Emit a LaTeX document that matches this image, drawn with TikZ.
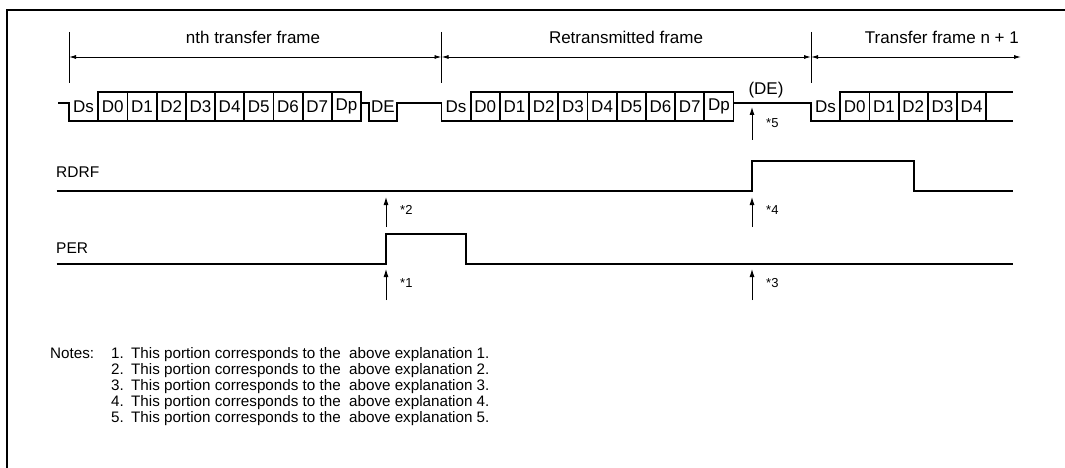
\documentclass[tikz,border=0pt]{standalone}
\usepackage{fontspec}
\setmainfont{Liberation Sans}
\usetikzlibrary{arrows.meta}
\tikzset{
  sig/.style={line width=1.8pt, line join=miter},
  bitbox/.style={draw, line width=1.8pt, minimum width=29.2pt, minimum height=29pt,
    inner sep=0pt, outer sep=0pt, font=\fontsize{17}{17}\selectfont},
  bitlabel/.style={inner sep=0pt, font=\fontsize{17}{17}\selectfont},
  framerule/.style={line width=0.8pt},
  framespan/.style={{Latex[length=7pt,width=4pt]}-{Latex[length=7pt,width=4pt]}, line width=0.9pt},
  headlabel/.style={inner sep=0pt, font=\fontsize{17}{17}\selectfont},
  signame/.style={inner sep=0pt, anchor=west, font=\fontsize{15.5}{15.5}\selectfont},
  hint/.style={-{Latex[length=8pt,width=5pt]}, line width=0.9pt},
  reflabel/.style={inner sep=0pt, anchor=west, font=\fontsize{13}{13}\selectfont},
  notetext/.style={inner sep=0pt, anchor=base west, font=\fontsize{15.2}{15.2}\selectfont}
}
\begin{document}
\begin{tikzpicture}[x=1pt,y=-1pt]
  \useasboundingbox (0,0) rectangle (1065,468);
  % open frame round the figure
  \draw[line width=2.6pt] (7,469) -- (7,10) -- (1066,10);

  % frame spans
  \foreach \x/\n in {69/a,441.5/b,811/c} {
    \draw[framerule] (\x,32) -- (\x,83);
    \coordinate (s\n) at (\x,57);
  }
  \coordinate (sd) at (1021,57);
  \draw[framespan] (sa) -- (sb);
  \draw[framespan] (sb) -- (sc);
  \draw[framespan] (sc) -- (sd);
  \node[headlabel] (head1) at (253,37) {nth transfer frame};
  \node[headlabel] (head2) at (626,37) {Retransmitted frame};
  \node[headlabel, anchor=east] (head3) at (1019,37) {Transfer frame n + 1};

  % nth transfer frame
  \draw[sig] (58,103) -- (69,103) -- (69,121) -- (98.2,121);
  \node[bitlabel] (ds1) at (83.6,106.5) {Ds};
  \foreach \l [count=\i from 0] in {D0,D1,D2,D3,D4,D5,D6,D7,Dp}
    \node[bitbox] (fa\l) at ({98.2+29.2*(\i+0.5)},106.5) {\l};
  \draw[sig] (361,103) -- (369,103) -- (369,121) -- (397,121) -- (397,103)
    -- (441.5,103) -- (441.5,121) -- (470.7,121);
  \node[bitlabel] (de1) at (383,106.5) {DE};

  % retransmitted frame
  \node[bitlabel] (ds2) at (456.1,106.5) {Ds};
  \foreach \l [count=\i from 0] in {D0,D1,D2,D3,D4,D5,D6,D7,Dp}
    \node[bitbox] (fb\l) at ({470.7+29.2*(\i+0.5)},106.5) {\l};
  \draw[sig] (733.5,103) -- (811,103) -- (811,121) -- (840.2,121);
  \node[bitlabel, anchor=south] (de2) at (766,98) {(DE)};

  % transfer frame n + 1
  \node[bitlabel] (ds3) at (825.6,106.5) {Ds};
  \foreach \l [count=\i from 0] in {D0,D1,D2,D3,D4}
    \node[bitbox] (fc\l) at ({840.2+29.2*(\i+0.5)},106.5) {\l};
  \draw[sig] (986.2,92) -- (1013,92);
  \draw[sig] (986.2,121) -- (1013,121);

  % flags
  \node[signame] (rdrf) at (56,172.5) {RDRF};
  \draw[sig] (56.7,191) -- (752,191) -- (752,161) -- (914,161) -- (914,191) -- (1013,191);
  \node[signame] (per) at (56,248) {PER};
  \draw[sig] (56.7,264) -- (386,264) -- (386,234) -- (466,234) -- (466,264) -- (1013,264);

  % reference arrows
  \foreach \x/\yb/\yt/\n in {386/300/269/1,386/227/197/2,752/300/269/3,752/227/197/4,752/140/107/5} {
    \coordinate (m\n) at (\x,\yb);
    \draw[hint] (m\n) -- ++(0,\yt-\yb);
    \node[reflabel] (ref\n) at (\x+14,\yb-17) {*\n};
  }

  % notes
  \node[notetext] (notes) at (50,358) {Notes:};
  \foreach \i in {1,...,5} {
    \node[notetext] (num\i) at (111,{358+16*(\i-1)}) {\i.};
    \node[notetext] (txt\i) at (131,{358+16*(\i-1)}) {This portion corresponds to the\ \ above explanation \i.};
  }
\end{tikzpicture}
\end{document}
